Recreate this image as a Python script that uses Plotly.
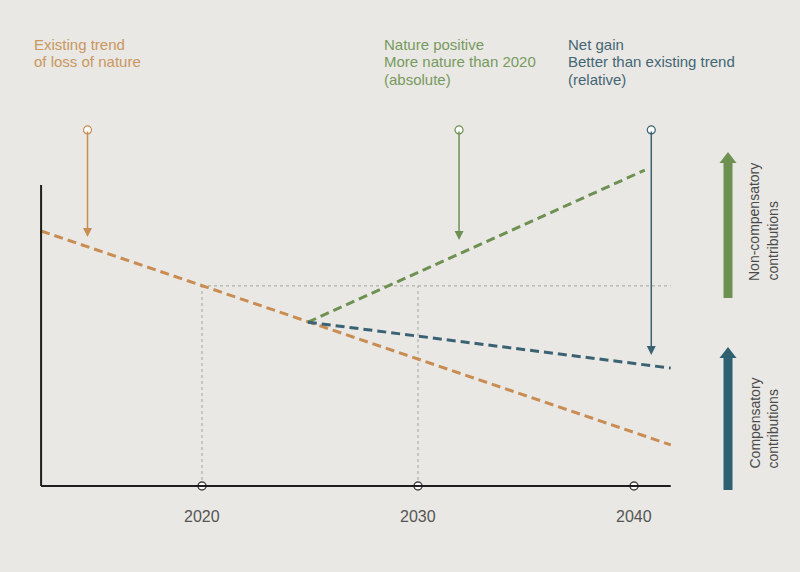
import plotly.graph_objects as go

# ---- data (conceptual diagram values) ----
tick_years = [2020, 2030, 2040]
tick_labels = ["2020", "2030", "2040"]

trend_years = [2012.55, 2041.7]
trend_values = [85.0, 13.7]

positive_years = [2024.9, 2040.5]
positive_values = [54.6, 105.3]

netgain_years = [2024.9, 2041.7]
netgain_values = [54.6, 39.3]

baseline_2020 = 66.7
axis_start_year = 2012.55
axis_end_year = 2041.7
axis_top = 100.3

marker_years = [2014.7, 2031.9, 2040.8]
marker_tops = [118.7, 118.7, 118.7]
marker_heads = [83.0, 82.0, 43.7]

ORANGE = "#c98c52"
GREEN = "#6e9152"
BLUE = "#3b6273"
ORANGE_T = "#c9975f"
GREEN_T = "#779a5e"
BLUE_T = "#446674"
BG = "#e9e8e4"
FONT = "Liberation Sans, Arial, sans-serif"

W, H = 800, 572
# pixel mapping: year = 2020 + (px-202)/21.6 ; value = (486-py)/3
x0 = 2020 - 202 / 21.6
x1 = 2020 + (W - 202) / 21.6
y0 = (486 - H) / 3
y1 = 486 / 3

fig = go.Figure()

# reference dotted lines
fig.add_trace(go.Scatter(x=[2020, axis_end_year], y=[baseline_2020, baseline_2020], mode="lines",
                         line=dict(color="#a3a3a0", width=1, dash="dot"), hoverinfo="skip"))
for yr in [2020, 2030]:
    fig.add_trace(go.Scatter(x=[yr, yr], y=[0, baseline_2020], mode="lines",
                             line=dict(color="#a3a3a0", width=1, dash="dot"), hoverinfo="skip"))

# dashed trend lines
fig.add_trace(go.Scatter(x=trend_years, y=trend_values, mode="lines",
                         line=dict(color=ORANGE, width=3, dash="9px,5px")))
fig.add_trace(go.Scatter(x=positive_years, y=positive_values, mode="lines",
                         line=dict(color=GREEN, width=3, dash="9px,5px")))
fig.add_trace(go.Scatter(x=netgain_years, y=netgain_values, mode="lines",
                         line=dict(color=BLUE, width=3, dash="9px,5px")))

# axes lines
fig.add_shape(type="line", x0=axis_start_year, x1=axis_start_year, y0=0, y1=axis_top,
              line=dict(color="#1e1e1e", width=2))
fig.add_shape(type="line", x0=axis_start_year, x1=axis_end_year, y0=0, y1=0,
              line=dict(color="#1e1e1e", width=2))

# tick markers
fig.add_trace(go.Scatter(x=tick_years, y=[0] * len(tick_years), mode="markers",
                         marker=dict(size=8, color="white", line=dict(color="#444", width=1.5))))
for yr, lab in zip(tick_years, tick_labels):
    fig.add_annotation(x=yr, y=-10.3, text=lab, showarrow=False,
                       font=dict(family=FONT, size=16, color="#555555"))

# vertical indicator arrows
arrow_colors = [ORANGE, GREEN, BLUE]
for yr, top, head, c in zip(marker_years, marker_tops, marker_heads, arrow_colors):
    fig.add_annotation(x=yr, y=head, ax=yr, ay=top, axref="x", ayref="y", xref="x", yref="y",
                       text="", showarrow=True, arrowhead=2, arrowsize=1.2, arrowwidth=1.5,
                       arrowcolor=c)
for yr, top, c in zip(marker_years, marker_tops, arrow_colors):
    fig.add_trace(go.Scatter(x=[yr], y=[top], mode="markers",
                             marker=dict(size=8, color="white", line=dict(color=c, width=1.2))))

# header texts
def ptext(px, py, txt, color, size=15, **kw):
    fig.add_annotation(x=px / W, y=1 - py / H, xref="paper", yref="paper", text=txt,
                       showarrow=False, xanchor="left", yanchor="middle",
                       font=dict(family=FONT, size=size, color=color), **kw)

ptext(32, 45, "Existing trend", ORANGE_T)
ptext(32, 62, "of loss of nature", ORANGE_T)
ptext(382, 45, "Nature positive", GREEN_T)
ptext(382, 62, "More nature than 2020", GREEN_T)
ptext(382, 79, "(absolute)", GREEN_T)
ptext(566, 45, "Net gain", BLUE_T)
ptext(566, 62, "Better than existing trend", BLUE_T)
ptext(566, 79, "(relative)", BLUE_T)

# right-side thick arrows
def big_arrow(px, ybot, ytop, color):
    fig.add_shape(type="rect", xref="paper", yref="paper",
                  x0=(px - 4.5) / W, x1=(px + 4.5) / W,
                  y0=1 - ybot / H, y1=1 - (ytop + 9) / H,
                  line=dict(width=0), fillcolor=color)
    fig.add_shape(type="path", xref="paper", yref="paper",
                  path=f"M {(px - 8.5) / W} {1 - (ytop + 11) / H} L {(px + 8.5) / W} {1 - (ytop + 11) / H} L {px / W} {1 - ytop / H} Z",
                  line=dict(width=0), fillcolor=color)

big_arrow(728, 298, 152, GREEN)
big_arrow(728, 490, 347, "#2f6072")

def vtext(px, pybottom, txt, color="#4a4a4a"):
    fig.add_annotation(x=px / W, y=1 - pybottom / H, xref="paper", yref="paper", text=txt,
                       showarrow=False, textangle=-90, xanchor="center", yanchor="bottom",
                       font=dict(family=FONT, size=14, color=color))

vtext(754, 283, "Non-compensatory")
vtext(772, 283, "contributions")
vtext(754, 471, "Compensatory")
vtext(772, 471, "contributions")

fig.update_layout(
    width=W, height=H, margin=dict(l=0, r=0, t=0, b=0),
    paper_bgcolor=BG, plot_bgcolor=BG, showlegend=False,
    xaxis=dict(range=[x0, x1], visible=False, fixedrange=True),
    yaxis=dict(range=[y0, y1], visible=False, fixedrange=True),
)

fig.write_html("out.html")
